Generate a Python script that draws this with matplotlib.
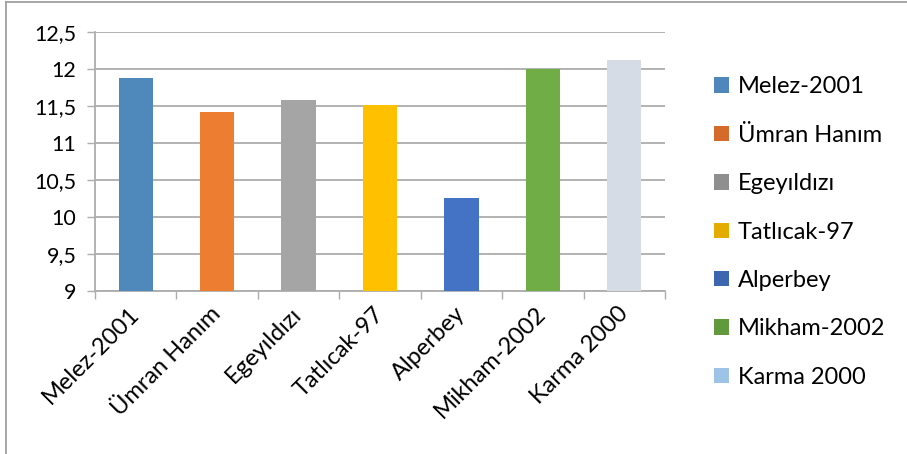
import matplotlib
matplotlib.use("Agg")
import matplotlib.pyplot as plt
from matplotlib.patches import Patch
from matplotlib.lines import Line2D

categories = ["Melez-2001", "Ümran Hanım", "Egeyıldızı", "Tatlıcak-97", "Alperbey", "Mikham-2002", "Karma 2000"]
values = [11.88, 11.42, 11.58, 11.51, 10.26, 12.00, 12.12]
bar_colors = ["#4F89BC", "#ED7D31", "#A5A5A5", "#FFC000", "#4472C4", "#70AD47", "#D6DCE5"]
legend_colors = ["#4F87BC", "#D46B2A", "#8F8F8F", "#E5AC00", "#3C66B0", "#609A3D", "#9DC3E6"]
yticks = [9, 9.5, 10, 10.5, 11, 11.5, 12, 12.5]
ytick_labels = ["9", "9,5", "10", "10,5", "11", "11,5", "12", "12,5"]

plt.rcParams['font.family'] = ['Lato', 'DejaVu Sans']

W, H = 907, 454
fig = plt.figure(figsize=(W/100, H/100), dpi=100)
ax = fig.add_axes([95/W, 1-291/H, 570/W, 259/H])

x = list(range(len(categories)))
ax.bar(x, values, width=0.42, color=bar_colors, zorder=3)
ax.set_ylim(9, 12.5)
ax.set_xlim(-0.5, len(categories)-0.5)
ax.set_yticks(yticks)
ax.set_yticklabels(ytick_labels, fontsize=15.5)
ax.set_xticks(x)
ax.set_xticklabels(categories, fontsize=17, rotation=45, ha='right', va='center',
                   rotation_mode='anchor')
ax.set_xticks([i - 0.5 for i in range(len(categories) + 1)], minor=True)
ax.tick_params(axis='x', which='major', length=0, pad=14)
ax.tick_params(axis='x', which='minor', length=5.5, width=1.0, color='#ADADAD')
ax.tick_params(axis='y', length=5.5, width=1.0, color='#ADADAD', pad=8)
ax.grid(axis='y', color='#ADADAD', linewidth=1.3, zorder=0)
ax.set_axisbelow(True)
for s in ['top', 'right']:
    ax.spines[s].set_visible(False)
for s in ['bottom', 'left']:
    ax.spines[s].set_color('#ADADAD')
    ax.spines[s].set_linewidth(1.3)

handles = [Patch(facecolor=c, edgecolor='none') for c in legend_colors]
fig.legend(handles, categories, loc='upper left', bbox_to_anchor=(705/W, 1-67/H),
           frameon=False, fontsize=17, handlelength=0.63, handleheight=0.63,
           handletextpad=0.35, labelspacing=1.16, borderaxespad=0)

# outer border (top and left visible)
fig.add_artist(Line2D([6/W, 1], [1-2/H, 1-2/H], color='#A0A0A0', lw=1.3))
fig.add_artist(Line2D([6/W, 6/W], [0, 1-2/H], color='#A0A0A0', lw=1.3))

fig.savefig("out.png", dpi=100)
